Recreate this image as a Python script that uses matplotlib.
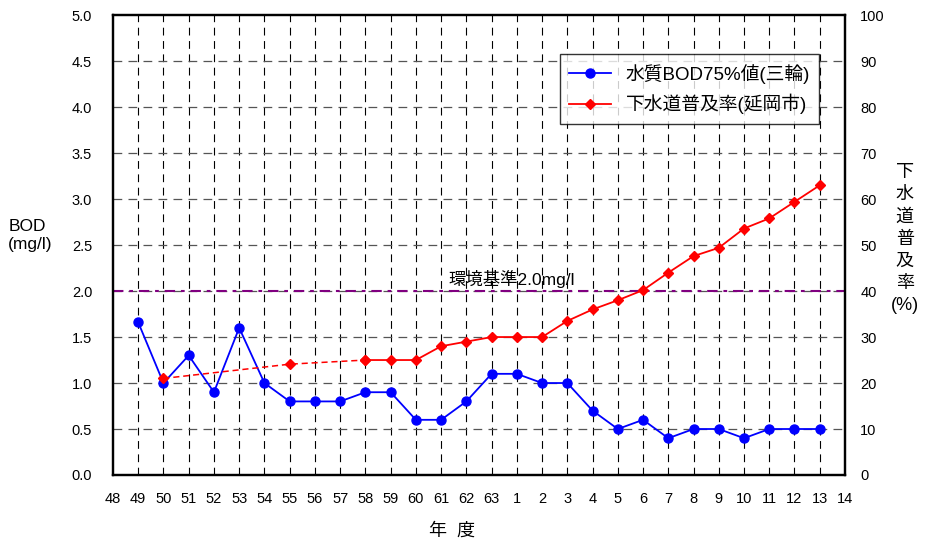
import matplotlib
matplotlib.use("Agg")
import matplotlib.pyplot as plt
from matplotlib.lines import Line2D

plt.rcParams['font.family'] = ['Liberation Sans', 'Noto Sans CJK JP', 'DejaVu Sans']

# fiscal years on the x axis (Showa 48-63, then Heisei 1-14)
years = [str(y) for y in range(48, 64)] + [str(y) for y in range(1, 15)]

# BOD 75% value (Miwa), mg/l, years 49 .. 13
bod_years = years[1:29]
bod = [1.66, 1.0, 1.3, 0.9, 1.6, 1.0, 0.8, 0.8, 0.8, 0.9, 0.9, 0.6, 0.6, 0.8, 1.1,
       1.1, 1.0, 1.0, 0.7, 0.5, 0.6, 0.4, 0.5, 0.5, 0.4, 0.5, 0.5, 0.5]

# sewerage coverage (Nobeoka city), %
sewer_years = ['50', '55', '58', '59', '60', '61', '62', '63',
               '1', '2', '3', '4', '5', '6', '7', '8', '9', '10', '11', '12', '13']
sewer = [21.0, 24.1, 25.0, 25.0, 25.0, 28.0, 29.0, 30.0,
         30.0, 30.0, 33.5, 36.0, 38.0, 40.2, 44.0, 47.6, 49.4, 53.6, 55.8, 59.4, 63.0]

standard = 2.0

bod_x = [years.index(y) for y in bod_years]
sew_x = [years.index(y) for y in sewer_years]

fig = plt.figure(figsize=(9.26, 5.41), dpi=100)
ax = fig.add_axes([0.122, 0.122, 0.7905, 0.85])
ax2 = ax.twinx()

ax.set_xlim(0, len(years) - 1)
ax.set_ylim(0, 5)
ax2.set_ylim(0, 100)
ax.set_xticks(range(len(years)))
ax.set_xticklabels(years)
ax.set_yticks([i * 0.5 for i in range(11)])
ax.set_yticklabels([f"{i * 0.5:.1f}" for i in range(11)])
ax2.set_yticks(range(0, 101, 10))

for a in (ax, ax2):
    a.tick_params(length=0, labelsize=10.5)
    for s in a.spines.values():
        s.set_linewidth(1.6)
        s.set_color('black')
ax.tick_params(axis='x', pad=12)
ax.tick_params(axis='y', pad=15)
ax2.tick_params(axis='y', pad=11)

# grid
for i in range(1, len(years) - 1):
    ax.axvline(i, color='black', lw=0.8, ls=(0, (7, 5)), zorder=1)
for v in ax.get_yticks()[1:-1]:
    ax.axhline(v, color='#555555', lw=0.9, ls=(0, (7, 5)), zorder=1)

# environmental standard
ax.axhline(standard, color='#800080', lw=1.5, ls=(0, (5, 2.8, 1.8, 2.8)), zorder=2)
ax.text(15.8, standard + 0.03, '環境基準2.0mg/l', ha='center', va='bottom',
        fontsize=12.5, zorder=3)

ax.plot(bod_x, bod, color='blue', lw=1.3, marker='o', ms=6.5, zorder=4)
ax2.plot(sew_x[:3], sewer[:3], color='red', lw=1.1, ls=(0, (4, 2.5)),
         marker='D', ms=5, zorder=4)
ax2.plot(sew_x[2:], sewer[2:], color='red', lw=1.3, marker='D', ms=5, zorder=4)

handles = [Line2D([], [], color='blue', lw=1.3, marker='o', ms=6.5),
           Line2D([], [], color='red', lw=1.3, marker='D', ms=5)]
leg = ax2.legend(handles, ['水質BOD75%値(三輪)', '下水道普及率(延岡市)'],
                 loc='upper left', bbox_to_anchor=(0.598, 0.935), fontsize=13.5,
                 frameon=True, fancybox=False, edgecolor='black',
                 handlelength=2.2, borderpad=0.5, labelspacing=0.55)
leg.get_frame().set_linewidth(1.0)

fig.text(0.009, 0.565, 'BOD\n(mg/l)', ha='left', va='center', fontsize=12.5,
         linespacing=1.3)
fig.text(0.977, 0.558, '下\n水\n道\n普\n及\n率\n(%)', ha='center', va='center',
         fontsize=13, linespacing=1.4)
fig.text(0.488, 0.003, '年  度', ha='center', va='bottom', fontsize=13)

fig.savefig('out.png', dpi=100)
